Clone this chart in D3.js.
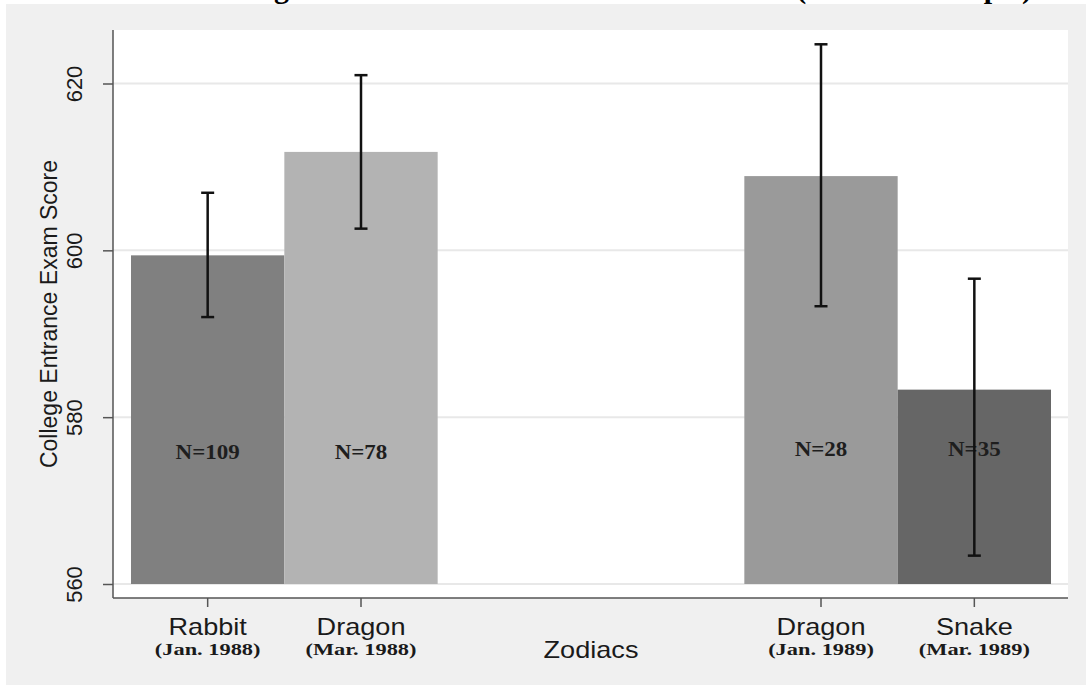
<!DOCTYPE html>
<html>
<head>
<meta charset="utf-8">
<script src="https://cdn.jsdelivr.net/npm/d3@7"></script>
<style>
  body { margin: 0; background: #fff; }
  svg { display: block; }
</style>
</head>
<body>
<svg id="bar-chart" width="1086" height="685"></svg>
<script>
// values
const zodiacs = ["Rabbit", "Dragon", "Dragon", "Snake"];
const births = ["(Jan. 1988)", "(Mar. 1988)", "(Jan. 1989)", "(Mar. 1989)"];
const counts = ["N=109", "N=78", "N=28", "N=35"];
const cohort = [0, 0, 1, 1];
const meanScore = [599.4, 611.8, 608.9, 583.3];
const ciLow = [592.0, 602.6, 593.3, 563.4];
const ciHigh = [606.9, 621.0, 624.7, 596.6];
const yTicks = [560, 580, 600, 620];

const sans = "'Liberation Sans', Arial, sans-serif",
    serif = "'Liberation Serif', 'Times New Roman', serif";

let svg = d3.select("svg#bar-chart");

// grey chart backdrop (the page is cropped a little at top and left)
svg.append("rect")
    .attr("x", 6).attr("y", 4)
    .attr("width", 1080).attr("height", 681)
    .attr("fill", "#f0f0f0");

// title, mostly cut off by the crop
svg.append("text")
    .attr("x", 1032).attr("y", -2)
    .attr("text-anchor", "end")
    .style("font-family", serif).style("font-weight", "bold").style("font-size", "30px")
    .text("Mean College Entrance Exam Score Across Zodiacs (Matched Sample)");

let margin = {top: 30, left: 113},
    width = 955,
    height = 568,
    g = svg.append("g").attr("transform", `translate(${margin.left},${margin.top})`);

g.append("rect")
    .attr("width", width).attr("height", height)
    .attr("fill", "#fff");

// six slots, the middle two stay empty
var x = d3.scaleBand().domain(d3.range(6)).range([18, 938]);
var slot = i => i + cohort[i] * 2;

var y = d3.scaleLinear().domain([560, 620]).range([554, 53.5]);

var colorBar = d3.scaleOrdinal()
    .domain(d3.range(4))
    .range(["#808080", "#b3b3b3", "#9a9a9a", "#666666"]);

// grid
g.selectAll(".grid")
    .data(yTicks)
    .enter().append("line")
    .attr("class", "grid")
    .attr("x1", 0).attr("x2", width)
    .attr("y1", d => y(d)).attr("y2", d => y(d))
    .attr("stroke", "#e8e8e8").attr("stroke-width", 2);

let rows = d3.range(zodiacs.length);

g.selectAll(".bar")
    .data(rows)
    .enter().append("rect")
    .attr("class", "bar")
    .attr("x", i => x(slot(i)))
    .attr("width", x.bandwidth())
    .attr("y", i => y(meanScore[i]))
    .attr("height", i => y(560) - y(meanScore[i]))
    .attr("fill", i => colorBar(i));

// N labels inside the bars
g.selectAll(".count")
    .data(rows)
    .enter().append("text")
    .attr("class", "count")
    .attr("transform", i => `translate(${x(slot(i)) + x.bandwidth() / 2},${i < 2 ? 429 : 426}) scale(1.15,1)`)
    .attr("text-anchor", "middle")
    .style("font-family", serif).style("font-weight", "bold").style("font-size", "20px")
    .attr("fill", "#1e1e1e")
    .text(i => counts[i]);

// error bars
let err = g.selectAll(".err")
    .data(rows)
    .enter().append("g")
    .attr("class", "err")
    .attr("transform", i => `translate(${x(slot(i)) + x.bandwidth() / 2},0)`)
    .attr("stroke", "#111").attr("stroke-width", 2.5);
err.append("line")
    .attr("y1", i => y(ciLow[i])).attr("y2", i => y(ciHigh[i]));
err.append("line")
    .attr("x1", -6.5).attr("x2", 6.5)
    .attr("y1", i => y(ciLow[i])).attr("y2", i => y(ciLow[i]));
err.append("line")
    .attr("x1", -6.5).attr("x2", 6.5)
    .attr("y1", i => y(ciHigh[i])).attr("y2", i => y(ciHigh[i]));

// y axis
let yAxis = g.append("g")
    .call(d3.axisLeft(y).tickValues(yTicks).tickSize(10).tickPadding(0))
    .attr("color", "#555");
yAxis.select(".domain").remove();
yAxis.selectAll("line").attr("stroke-width", 1.5);
yAxis.selectAll("text")
    .attr("transform", "rotate(-90)")
    .attr("x", 0).attr("y", -31).attr("dy", 0)
    .attr("text-anchor", "middle")
    .attr("fill", "#1a1a1a")
    .style("font-family", sans).style("font-size", "22px");

// x axis ticks
let xAxis = g.append("g")
    .attr("transform", `translate(0,${height})`)
    .call(d3.axisBottom(x).tickValues(rows.map(slot)).tickSize(9).tickFormat(""))
    .attr("color", "#555");
xAxis.select(".domain").remove();
xAxis.selectAll("line").attr("stroke-width", 1.5);

// axis lines
g.append("line")
    .attr("x1", 0).attr("x2", 0).attr("y1", 0).attr("y2", height)
    .attr("stroke", "#555").attr("stroke-width", 1.5);
g.append("line")
    .attr("x1", 0).attr("x2", width).attr("y1", height).attr("y2", height)
    .attr("stroke", "#555").attr("stroke-width", 1.5);

// category labels
g.selectAll(".zname")
    .data(rows)
    .enter().append("text")
    .attr("class", "zname")
    .attr("transform", i => `translate(${x(slot(i)) + x.bandwidth() / 2},${605}) scale(1.13,1)`)
    .attr("text-anchor", "middle")
    .attr("fill", "#1a1a1a")
    .style("font-family", sans).style("font-size", "24px")
    .text(i => zodiacs[i]);

g.selectAll(".birth")
    .data(rows)
    .enter().append("text")
    .attr("class", "birth")
    .attr("transform", i => `translate(${x(slot(i)) + x.bandwidth() / 2},${625}) scale(1.28,1)`)
    .attr("text-anchor", "middle")
    .attr("fill", "#1a1a1a")
    .style("font-family", serif).style("font-weight", "bold").style("font-size", "17.5px")
    .text(i => births[i]);

// axis titles
g.append("text")
    .attr("transform", `translate(${x(3)},${628}) scale(1.13,1)`)
    .attr("text-anchor", "middle")
    .attr("fill", "#1a1a1a")
    .style("font-family", sans).style("font-size", "24px")
    .text("Zodiacs");

g.append("text")
    .attr("transform", `translate(${57 - margin.left},${314 - margin.top}) rotate(-90)`)
    .attr("text-anchor", "middle")
    .attr("fill", "#1a1a1a")
    .style("font-family", sans).style("font-size", "23px")
    .text("College Entrance Exam Score");
</script>
</body>
</html>
